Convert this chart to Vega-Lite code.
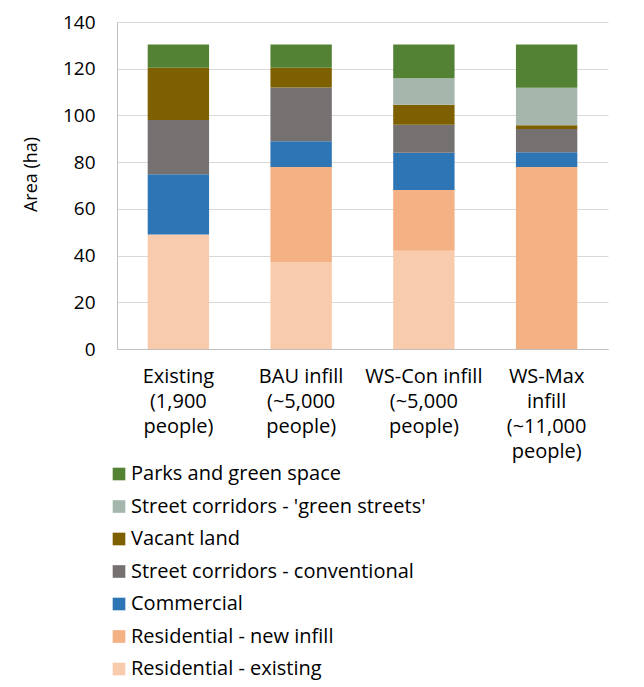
{
  "$schema": "https://vega.github.io/schema/vega-lite/v6.json",
  "autosize": "none",
  "width": 491,
  "height": 327,
  "padding": {"left": 117, "top": 22, "right": 36, "bottom": 338},
  "background": "white",
  "config": {
    "font": "Open Sans",
    "view": {"stroke": null},
    "axis": {"labelColor": "#000000", "titleColor": "#000000", "labelFont": "Open Sans", "titleFont": "Open Sans"},
    "legend": {"labelFont": "Open Sans"}
  },
  "data": {
    "values": [
      {"scenario": "Existing", "category": "Residential - existing", "o": 1, "area": 49.0},
      {"scenario": "Existing", "category": "Commercial", "o": 3, "area": 25.8},
      {"scenario": "Existing", "category": "Street corridors - conventional", "o": 4, "area": 23.2},
      {"scenario": "Existing", "category": "Vacant land", "o": 5, "area": 22.4},
      {"scenario": "Existing", "category": "Parks and green space", "o": 7, "area": 10.0},
      {"scenario": "BAU", "category": "Residential - existing", "o": 1, "area": 37.2},
      {"scenario": "BAU", "category": "Residential - new infill", "o": 2, "area": 40.7},
      {"scenario": "BAU", "category": "Commercial", "o": 3, "area": 11.0},
      {"scenario": "BAU", "category": "Street corridors - conventional", "o": 4, "area": 23.1},
      {"scenario": "BAU", "category": "Vacant land", "o": 5, "area": 8.4},
      {"scenario": "BAU", "category": "Parks and green space", "o": 7, "area": 10.0},
      {"scenario": "WSCon", "category": "Residential - existing", "o": 1, "area": 42.1},
      {"scenario": "WSCon", "category": "Residential - new infill", "o": 2, "area": 26.0},
      {"scenario": "WSCon", "category": "Commercial", "o": 3, "area": 15.9},
      {"scenario": "WSCon", "category": "Street corridors - conventional", "o": 4, "area": 12.0},
      {"scenario": "WSCon", "category": "Vacant land", "o": 5, "area": 8.6},
      {"scenario": "WSCon", "category": "Street corridors - 'green streets'", "o": 6, "area": 11.3},
      {"scenario": "WSCon", "category": "Parks and green space", "o": 7, "area": 14.5},
      {"scenario": "WSMax", "category": "Residential - new infill", "o": 2, "area": 77.9},
      {"scenario": "WSMax", "category": "Commercial", "o": 3, "area": 6.3},
      {"scenario": "WSMax", "category": "Street corridors - conventional", "o": 4, "area": 10.0},
      {"scenario": "WSMax", "category": "Vacant land", "o": 5, "area": 1.6},
      {"scenario": "WSMax", "category": "Street corridors - 'green streets'", "o": 6, "area": 16.1},
      {"scenario": "WSMax", "category": "Parks and green space", "o": 7, "area": 18.5}
    ]
  },
  "mark": {"type": "bar"},
  "encoding": {
    "x": {
      "field": "scenario",
      "type": "nominal",
      "sort": ["Existing", "BAU", "WSCon", "WSMax"],
      "scale": {"paddingInner": 0.5, "paddingOuter": 0.25},
      "axis": {
        "title": null,
        "labelAngle": 0,
        "labelFontSize": 20,
        "labelLineHeight": 25,
        "labelPadding": 17,
        "labelBaseline": "top",
        "ticks": false,
        "domainColor": "#bfbfbf",
        "labelExpr": "datum.value == 'Existing' ? ['Existing', '(1,900', 'people)'] : datum.value == 'BAU' ? ['BAU infill', '(~5,000', 'people)'] : datum.value == 'WSCon' ? ['WS-Con infill', '(~5,000', 'people)'] : ['WS-Max', 'infill', '(~11,000', 'people)']"
      }
    },
    "y": {
      "field": "area",
      "type": "quantitative",
      "stack": "zero",
      "scale": {"domain": [0, 140], "nice": false},
      "axis": {
        "title": "Area (ha)",
        "titleFontSize": 18,
        "titleFontWeight": "normal",
        "titlePadding": 22,
        "titleY": 152,
        "values": [0, 20, 40, 60, 80, 100, 120, 140],
        "labelFontSize": 19,
        "labelPadding": 22,
        "ticks": false,
        "domainColor": "#bfbfbf",
        "gridColor": "#d9d9d9"
      }
    },
    "order": {"field": "o", "type": "quantitative"},
    "color": {
      "field": "category",
      "type": "nominal",
      "scale": {
        "domain": ["Parks and green space", "Street corridors - 'green streets'", "Vacant land", "Street corridors - conventional", "Commercial", "Residential - new infill", "Residential - existing"],
        "range": ["#548235", "#a5b7ad", "#7f6000", "#767171", "#2e75b6", "#f4b183", "#f8cbad"]
      },
      "legend": {
        "title": null,
        "orient": "none",
        "legendX": -8,
        "legendY": 442,
        "symbolType": "square",
        "symbolSize": 160,
        "symbolStrokeWidth": 0,
        "labelFontSize": 20,
        "labelColor": "#000000",
        "labelOffset": 2,
        "rowPadding": 12.5,
        "labelLimit": 400
      }
    }
  }
}
